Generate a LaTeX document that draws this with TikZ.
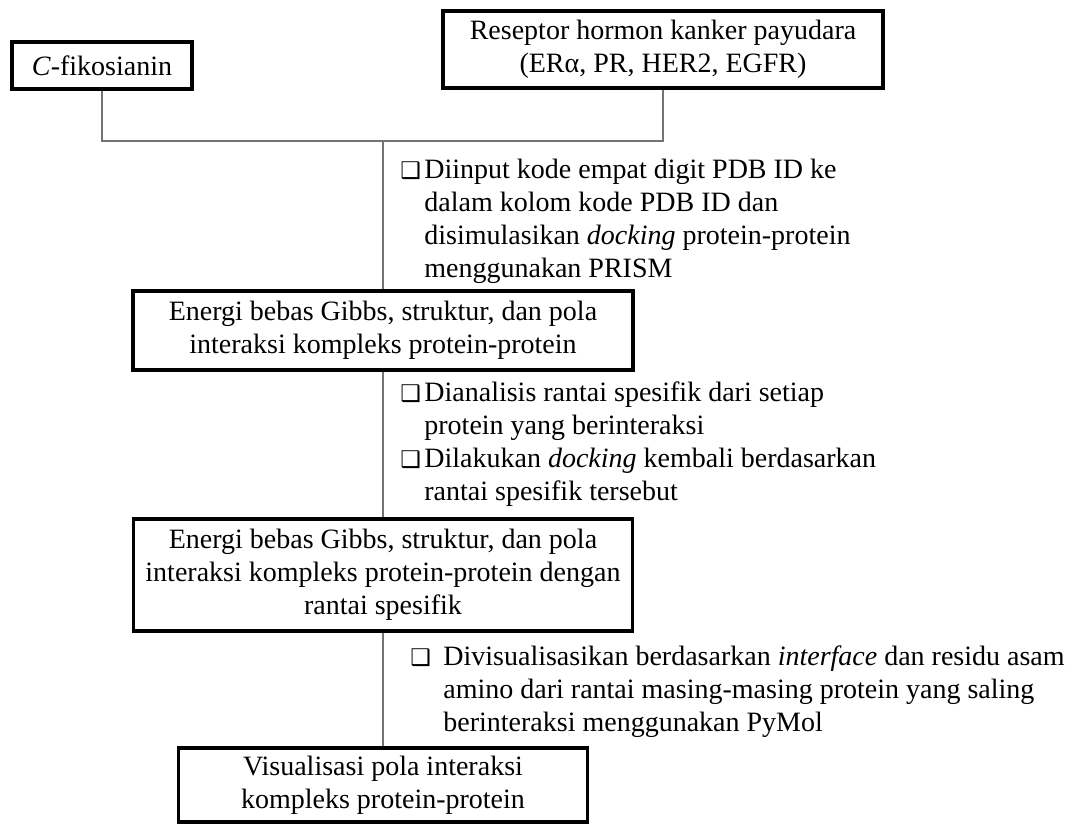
\documentclass[tikz,border=0pt]{standalone}
\usepackage{fontspec}
\setmainfont{Liberation Serif}
\newfontfamily\symfont{DejaVu Sans}
\usetikzlibrary{positioning}

% kotak centang di depan setiap langkah
\newcommand{\chk}[1]{\makebox[#1][l]{\fontsize{11.5}{11.5}\symfont ❑}}

\tikzset{
  box/.style={draw, line width=1.6pt, align=center, inner sep=0pt,
    font=\fontsize{14}{16.5}\selectfont},
  link/.style={draw=black!55, line width=0.6pt},
  note/.style={anchor=base west, inner sep=0pt,
    font=\fontsize{14}{16.5}\selectfont}
}

\begin{document}
\begin{tikzpicture}[x=0.5pt, y=-0.5pt]

    \useasboundingbox (0,0) rectangle (1069,824);

    % bahan
    \node[box, minimum width=90pt, minimum height=23.5pt] (fiko) at (102,65.5) {\textit{C}-fikosianin};
    \node[box, minimum width=220pt, minimum height=38.5pt] (resep) at (663,49.5) {Reseptor hormon kanker payudara\\(ERα, PR, HER2, EGFR)};

    % hasil
    \node[box, minimum width=250pt, minimum height=39.5pt] (energi) at (383,330.5) {Energi bebas Gibbs, struktur, dan pola\\interaksi kompleks protein-protein};
    \node[box, minimum width=249.5pt, minimum height=56pt] (spesifik) at (383,575) {Energi bebas Gibbs, struktur, dan pola\\interaksi kompleks protein-protein dengan\\rantai spesifik};
    \node[box, minimum width=204.5pt, minimum height=37pt] (visual) at (383,785) {Visualisasi pola interaksi\\kompleks protein-protein};

    \coordinate (join) at (383,141);

    \draw[link] (fiko.south) |- (join) -| (resep.south);
    \draw[link] (join) -- (energi.north);
    \draw[link] (energi.south) -- (spesifik.north);
    \draw[link] (spesifik.south) -- (visual.north);

    % langkah kerja
    \node[note] (tahap1) at (400,178) {\parbox[t]{330pt}{\hangindent=12pt\hangafter=1\chk{12pt}Diinput kode empat digit PDB ID ke\newline dalam kolom kode PDB ID dan\newline disimulasikan \textit{docking} protein-protein\newline menggunakan PRISM}};
    \node[note] (tahap2) at (400,401) {\parbox[t]{330pt}{\hangindent=12pt\hangafter=1\chk{12pt}Dianalisis rantai spesifik dari setiap\newline protein yang berinteraksi\par
      \hangindent=12pt\hangafter=1\chk{12pt}Dilakukan \textit{docking} kembali berdasarkan\newline rantai spesifik tersebut}};
    \node[note] (tahap3) at (410,665) {\parbox[t]{330pt}{\hangindent=16.5pt\hangafter=1\chk{16.5pt}Divisualisasikan berdasarkan \textit{interface} dan residu asam\newline amino dari rantai masing-masing protein yang saling\newline berinteraksi menggunakan PyMol}};

\end{tikzpicture}
\end{document}
